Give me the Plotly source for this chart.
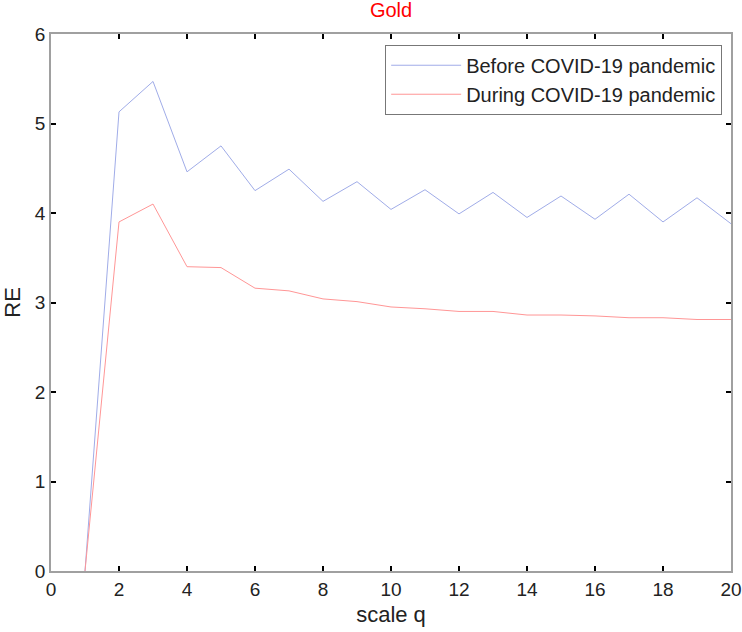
import plotly.graph_objects as go

scale_q = list(range(1, 21))
before_re = [0, 5.13, 5.47, 4.46, 4.75, 4.25, 4.49, 4.13, 4.35, 4.04,
             4.26, 3.99, 4.23, 3.95, 4.19, 3.93, 4.21, 3.90, 4.17, 3.88]
during_re = [0, 3.90, 4.10, 3.40, 3.39, 3.16, 3.13, 3.04, 3.01, 2.95,
             2.93, 2.90, 2.90, 2.86, 2.86, 2.85, 2.83, 2.83, 2.81, 2.81]
x_ticks = list(range(0, 21, 2))
y_ticks = list(range(0, 7))

FONT = "Liberation Sans, Arial"

fig = go.Figure()
fig.add_trace(go.Scatter(x=scale_q, y=before_re, mode="lines",
                         name="Before COVID-19 pandemic",
                         line=dict(color="rgb(160,172,232)", width=1)))
fig.add_trace(go.Scatter(x=scale_q, y=during_re, mode="lines",
                         name="During COVID-19 pandemic",
                         line=dict(color="rgb(255,150,150)", width=1)))

axis_common = dict(showgrid=False, zeroline=False, showline=True, mirror="ticks",
                   linecolor="#a0a0a0", linewidth=1.5, ticks="inside",
                   tickcolor="black", ticklen=5, tickwidth=1.5, automargin=False,
                   tickfont=dict(family=FONT, size=19, color="#222"))

fig.update_layout(
    width=742, height=632,
    paper_bgcolor="white", plot_bgcolor="white",
    margin=dict(l=51, r=11, t=34, b=61, autoexpand=False),
    title=dict(text="Gold", x=0.5, xanchor="center", y=0.984, yanchor="middle",
               xref="paper", automargin=False,
               font=dict(family=FONT, size=20, color="red")),
    xaxis=dict(range=[0, 20], tickvals=x_ticks,
               title=dict(text="scale q", standoff=8,
                          font=dict(family=FONT, size=22, color="#222")),
               **axis_common),
    yaxis=dict(range=[0, 6], tickvals=y_ticks, **axis_common),
    legend=dict(x=0.987, y=0.98, xanchor="right", yanchor="top",
                bordercolor="#777", borderwidth=1, bgcolor="white",
                font=dict(family=FONT, size=20, color="#222"),
                itemwidth=70, tracegroupgap=0),
    showlegend=True,
)
fig.add_annotation(text="RE", xref="paper", yref="paper", x=-0.057, y=0.5,
                   xanchor="center", yanchor="middle", textangle=-90,
                   showarrow=False, font=dict(family=FONT, size=22, color="#222"))

fig.write_html("out.html", config={"displayModeBar": False},
               post_script="document.body.style.margin='0';")
